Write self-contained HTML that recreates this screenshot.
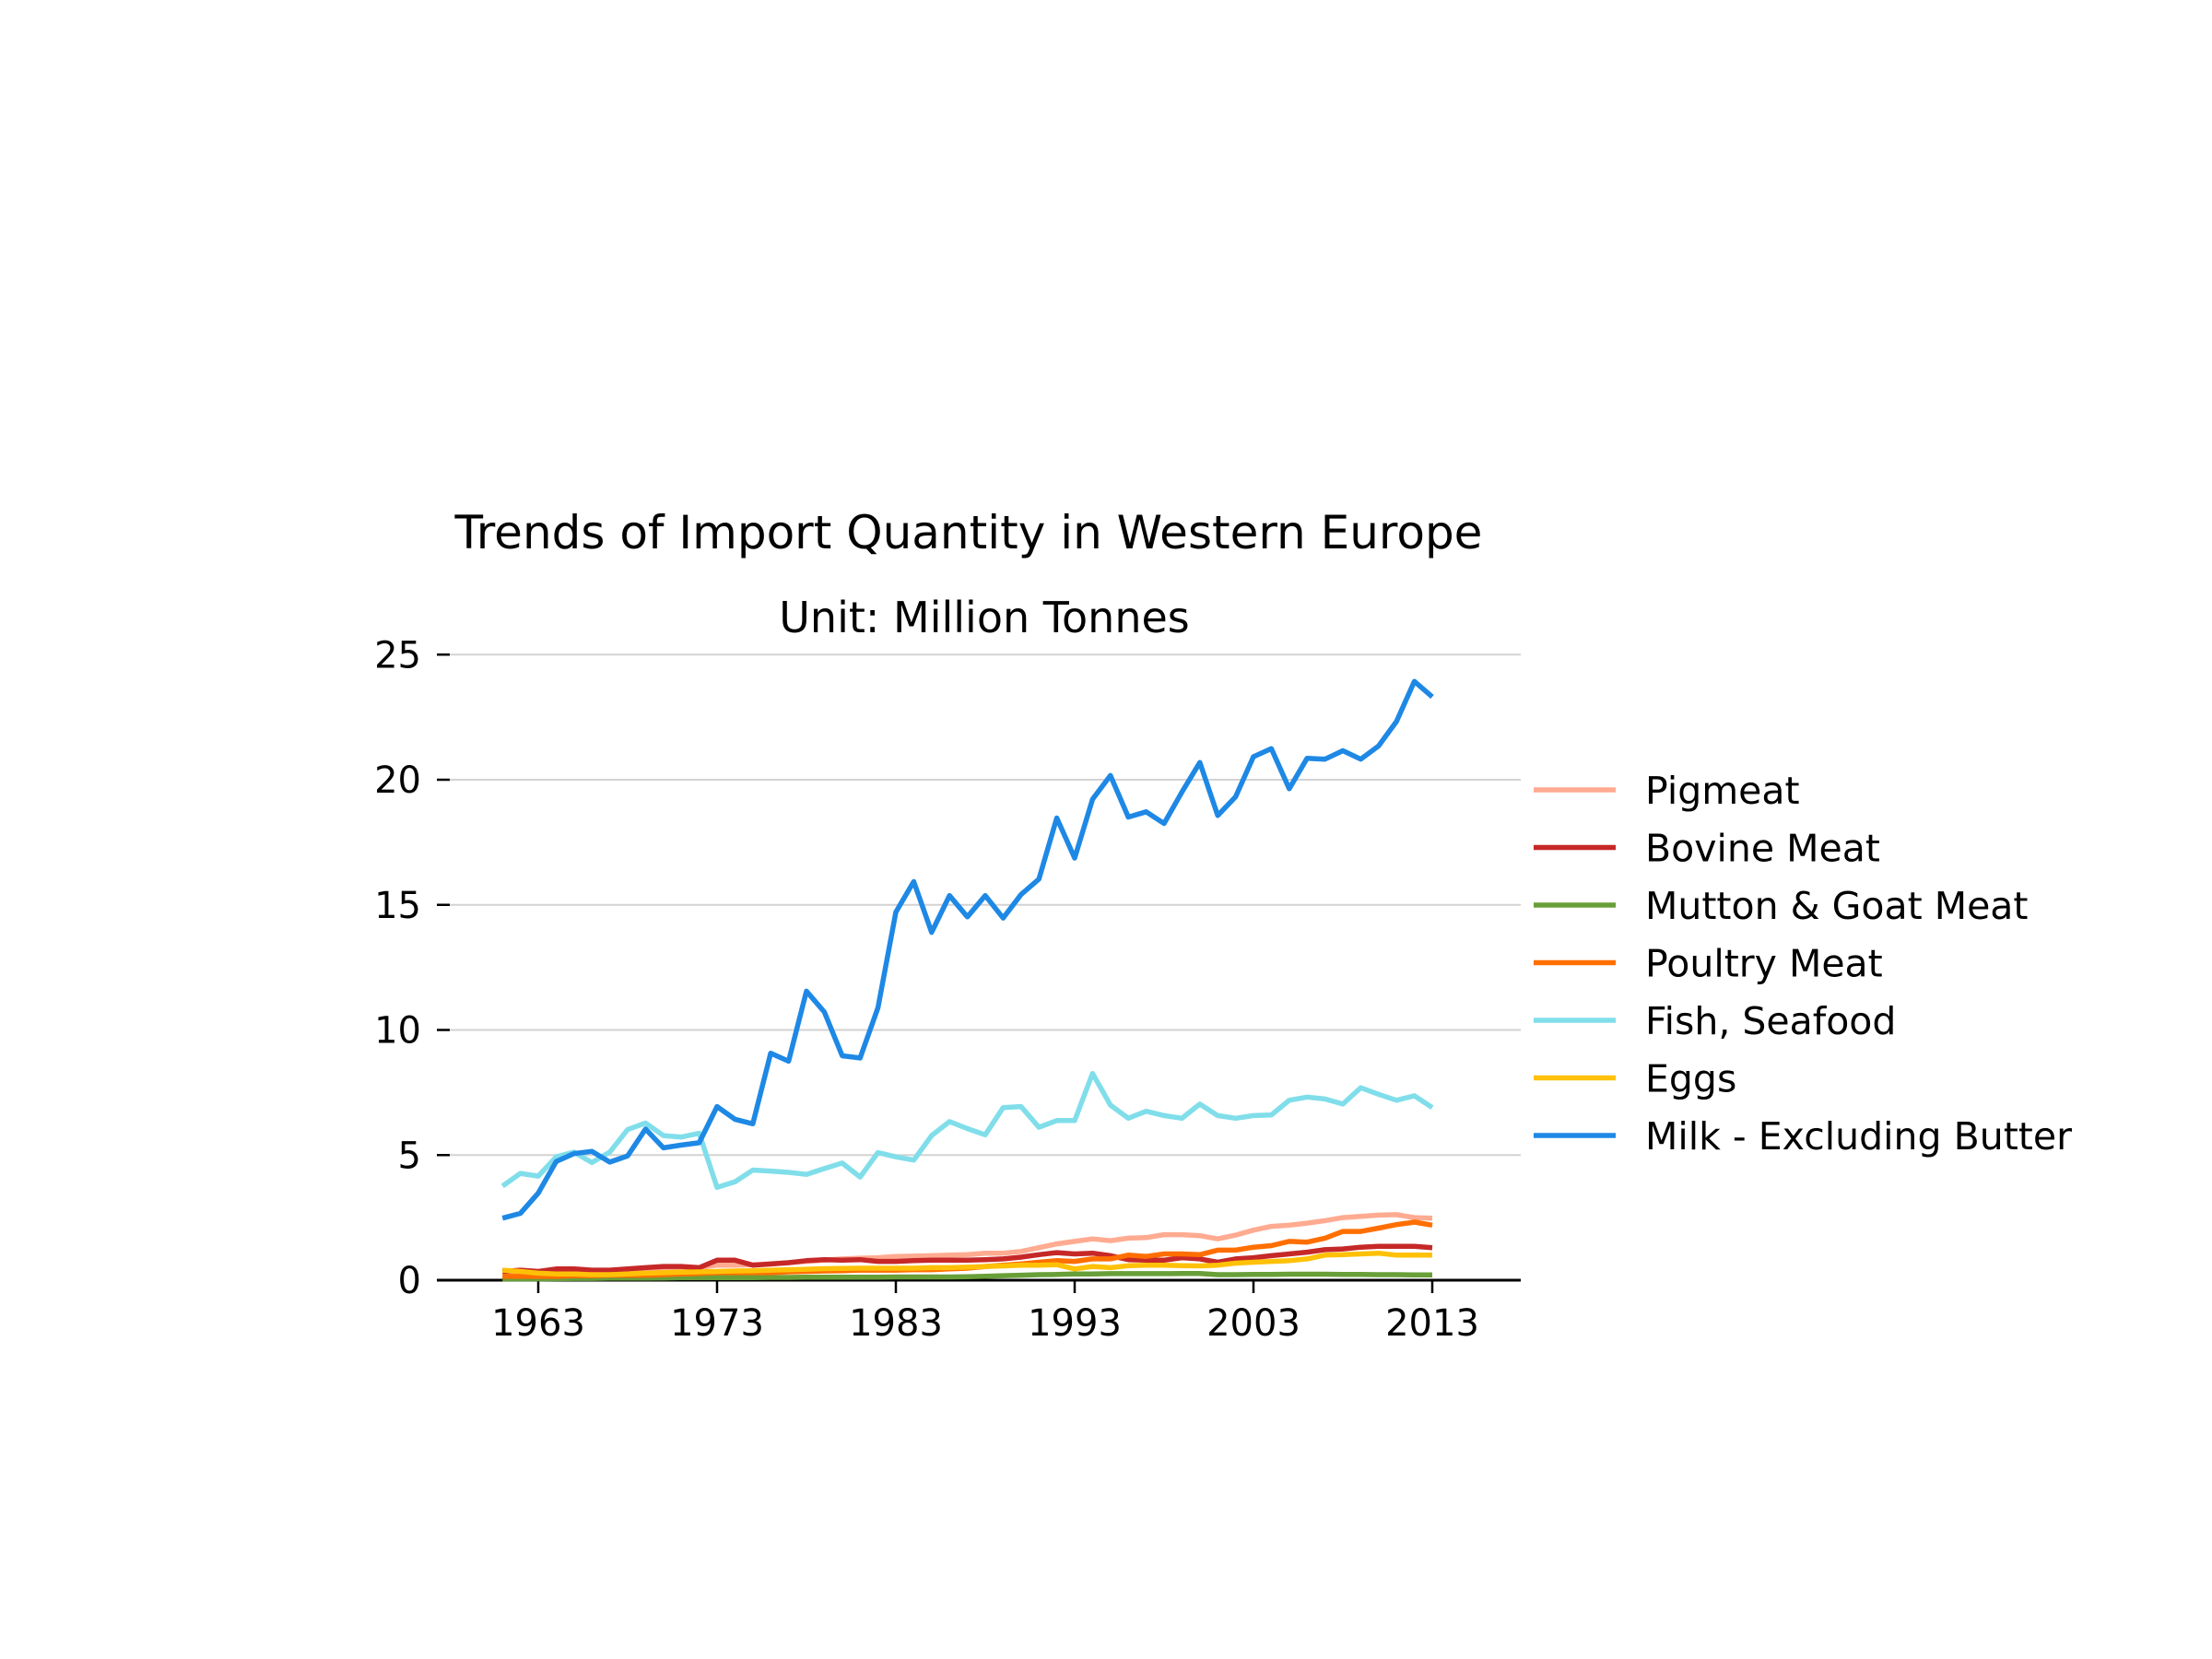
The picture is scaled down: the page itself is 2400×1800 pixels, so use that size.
<!DOCTYPE html>
<html><head><meta charset="utf-8"><style>
html,body{margin:0;padding:0;background:#fff;}
svg{display:block;font-family:"DejaVu Sans","Liberation Sans",sans-serif;}
</style></head><body>
<svg id="chart" width="2400" height="1800" viewBox="0 0 2400 1800" xmlns="http://www.w3.org/2000/svg">
<rect width="2400" height="1800" fill="#fff"/>
<text x="1051" y="595" font-size="50" text-anchor="middle">Trends of Import Quantity in Western Europe</text>
<text x="1068" y="686" font-size="46" text-anchor="middle">Unit: Million Tonnes</text>
<g id="grid"></g><g id="axes"></g><g id="series"></g><g id="legend"></g>
</svg>
<script>
const years = [];
for (let y = 1961; y <= 2013; y++) years.push(y);
const seriesNames = ["Pigmeat","Bovine Meat","Mutton & Goat Meat","Poultry Meat","Fish, Seafood","Eggs","Milk - Excluding Butter"];
const seriesColors = ["#ffab91","#c62828","#689f38","#ff6f00","#80deea","#ffc107","#1e88e5"];
const pigmeat = [0.25,0.3,0.3,0.35,0.35,0.35,0.35,0.4,0.4,0.45,0.45,0.5,0.6,0.6,0.62,0.65,0.7,0.75,0.8,0.85,0.88,0.9,0.95,0.96,0.98,1.0,1.02,1.08,1.08,1.15,1.3,1.45,1.55,1.65,1.58,1.68,1.7,1.82,1.82,1.78,1.65,1.8,2.0,2.15,2.2,2.28,2.38,2.5,2.55,2.6,2.62,2.5,2.48];
const bovine = [0.35,0.4,0.35,0.45,0.45,0.4,0.4,0.45,0.5,0.55,0.55,0.5,0.8,0.8,0.6,0.65,0.7,0.78,0.82,0.8,0.82,0.75,0.75,0.78,0.8,0.8,0.8,0.82,0.85,0.92,1.02,1.1,1.05,1.08,0.98,0.82,0.8,0.8,0.9,0.85,0.72,0.85,0.9,0.98,1.05,1.12,1.22,1.25,1.32,1.35,1.35,1.35,1.3];
const mutton = [0.05,0.05,0.05,0.06,0.07,0.07,0.08,0.08,0.08,0.09,0.1,0.1,0.1,0.1,0.1,0.11,0.11,0.12,0.12,0.12,0.12,0.12,0.13,0.13,0.13,0.13,0.14,0.16,0.18,0.2,0.22,0.23,0.25,0.25,0.26,0.26,0.26,0.26,0.27,0.27,0.22,0.22,0.23,0.23,0.24,0.24,0.24,0.23,0.23,0.22,0.22,0.21,0.21];
const poultry = [0.15,0.15,0.15,0.15,0.18,0.18,0.2,0.2,0.2,0.22,0.25,0.27,0.3,0.3,0.3,0.3,0.33,0.35,0.37,0.38,0.4,0.4,0.4,0.42,0.42,0.45,0.48,0.55,0.6,0.65,0.72,0.78,0.75,0.85,0.85,1.0,0.95,1.05,1.05,1.02,1.2,1.2,1.32,1.38,1.55,1.52,1.68,1.95,1.95,2.08,2.22,2.32,2.2];
const fish = [3.76,4.27,4.16,4.93,5.12,4.7,5.12,6.02,6.28,5.78,5.72,5.87,3.71,3.93,4.4,4.36,4.31,4.23,4.46,4.68,4.12,5.1,4.93,4.8,5.78,6.34,6.06,5.81,6.9,6.94,6.11,6.38,6.38,8.26,7.0,6.47,6.75,6.58,6.47,7.04,6.58,6.47,6.58,6.6,7.19,7.32,7.24,7.04,7.69,7.43,7.19,7.37,6.9];
const eggs = [0.4,0.35,0.28,0.25,0.25,0.22,0.22,0.25,0.28,0.3,0.32,0.33,0.35,0.37,0.38,0.4,0.42,0.44,0.46,0.47,0.48,0.48,0.48,0.48,0.5,0.5,0.52,0.55,0.57,0.6,0.6,0.62,0.45,0.55,0.5,0.58,0.6,0.6,0.58,0.57,0.6,0.68,0.72,0.75,0.78,0.85,1.0,1.02,1.05,1.08,1.0,1.0,1.0];
const milk = [2.48,2.67,3.48,4.74,5.06,5.15,4.72,4.97,6.04,5.29,5.4,5.49,6.94,6.43,6.25,9.07,8.75,11.55,10.72,8.97,8.88,10.89,14.71,15.93,13.9,15.37,14.52,15.37,14.47,15.41,16.03,18.47,16.87,19.22,20.17,18.51,18.72,18.25,19.51,20.69,18.57,19.32,20.92,21.24,19.64,20.86,20.82,21.16,20.82,21.35,22.33,23.93,23.31];
const yTicks = [0,5,10,15,20,25];
const xTicks = [1963,1973,1983,1993,2003,2013];
const seriesData = [pigmeat,bovine,mutton,poultry,fish,eggs,milk];

const NS = "http://www.w3.org/2000/svg";
const xs = yr => 584 + (yr - 1963) * 19.4;
const ys = v => 1389 - v * 27.15;
function mk(tag, attrs, parent) {
  const e = document.createElementNS(NS, tag);
  for (const k in attrs) e.setAttribute(k, attrs[k]);
  parent.appendChild(e);
  return e;
}
const grid = document.getElementById('grid');
const axes = document.getElementById('axes');
const series = document.getElementById('series');
const legend = document.getElementById('legend');

yTicks.forEach(t => {
  const y = ys(t);
  if (t > 0) {
    const g = mk('line', {x1:488, x2:1650, y1:y, y2:y, stroke:'#d3d3d3', 'stroke-width':2}, grid);
    
    
  }
  const tk = mk('line', {x1:474, x2:488, y1:y, y2:y, stroke:'#000', 'stroke-width':2.5}, axes);
  
  
  const lb = mk('text', {x:457, y:y + 14, 'font-size':40, 'text-anchor':'end'}, axes);
  lb.textContent = t;
  
  
});
const spine = mk('line', {x1:474, x2:1650, y1:ys(0), y2:ys(0), stroke:'#000', 'stroke-width':3}, axes);


xTicks.forEach(t => {
  const x = xs(t);
  const tk = mk('line', {x1:x, x2:x, y1:ys(0), y2:ys(0) + 14, stroke:'#000', 'stroke-width':2.5}, axes);
  
  
  const lb = mk('text', {x:x, y:1449, 'font-size':40, 'text-anchor':'middle'}, axes);
  lb.textContent = t;
  
  
});

seriesData.forEach((d, i) => {
  const pts = d.map((v, j) => xs(years[j]).toFixed(1) + ',' + ys(v).toFixed(1)).join(' ');
  const pl = mk('polyline', {points:pts, fill:'none', stroke:seriesColors[i], 'stroke-width':5.5, 'stroke-linejoin':'round'}, series);
  
  

  const ly = 857 + i * 62.5;
  const ll = mk('line', {x1:1664, x2:1753, y1:ly, y2:ly, stroke:seriesColors[i], 'stroke-width':5.5}, legend);
  
  
  const lt = mk('text', {x:1785, y:ly + 15, 'font-size':41}, legend);
  lt.textContent = seriesNames[i];
  
  
});
</script>
</body></html>
